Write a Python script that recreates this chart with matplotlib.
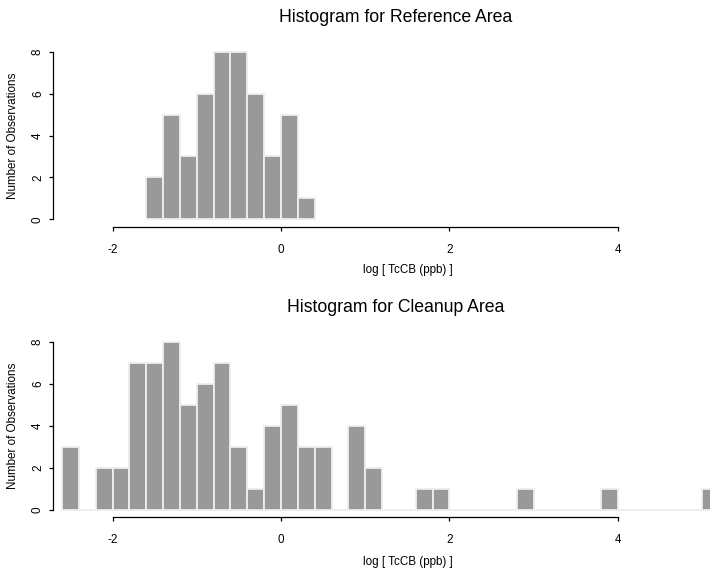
import numpy as np
import matplotlib
matplotlib.use("Agg")
import matplotlib.pyplot as plt

plt.rcParams['font.family'] = ['Liberation Sans', 'DejaVu Sans']

# ---- data ----
bin_width = 0.2
ref_start = -1.6
ref_counts = [2, 5, 3, 6, 8, 8, 6, 3, 5, 1]
cln_start = -2.6
cln_counts = [3, 0, 2, 2, 7, 7, 8, 5, 6, 7, 3, 1, 4, 5, 3, 3, 0, 4, 2, 0, 0,
              1, 1, 0, 0, 0, 0, 1, 0, 0, 0, 0, 1, 0, 0, 0, 0, 0, 1]
titles = ["Histogram for Reference Area", "Histogram for Cleanup Area"]
xlabel = "log [ TcCB (ppb) ]"
ylabel = "Number of Observations"
xticks = [-2, 0, 2, 4]
yticks = [0, 2, 4, 6, 8]

W, H = 710, 573
fig = plt.figure(figsize=(W / 100, H / 100), dpi=100)

# pixel geometry (from reference)
x_left_px, x_right_px = 53, 710
px_per_unit = 84.2
x0_px = 281.0  # pixel of x=0
xlim = ((x_left_px - x0_px) / px_per_unit, (x_right_px - x0_px) / px_per_unit)

panels = [
    dict(start=ref_start, counts=ref_counts, title=titles[0],
         y0=219.3, ppu=20.95, axis_px=227.3, title_px=17, tick_px=247, xlab_px=270),
    dict(start=cln_start, counts=cln_counts, title=titles[1],
         y0=510.0, ppu=21.04, axis_px=517.3, title_px=307, tick_px=537, xlab_px=562),
]

fs = 8.4
for p in panels:
    ymin = (p['y0'] - p['axis_px']) / p['ppu']
    ymax = 8.4
    top_px = p['y0'] - ymax * p['ppu']
    ax = fig.add_axes([x_left_px / W, 1 - p['axis_px'] / H,
                       (x_right_px - x_left_px) / W, (p['axis_px'] - top_px) / H])
    counts = np.array(p['counts'])
    lefts = p['start'] + bin_width * np.arange(len(counts))
    ax.bar(lefts, counts, width=bin_width, align='edge', color='#999999',
           edgecolor='#eeeeee', linewidth=1.3, zorder=2)
    ax.set_xlim(*xlim)
    ax.set_ylim(ymin, ymax)
    for s in ['top', 'right']:
        ax.spines[s].set_visible(False)
    ax.spines['left'].set_bounds(0, 8)
    ax.spines['bottom'].set_bounds(-2, 4)
    for s in ['left', 'bottom']:
        ax.spines[s].set_linewidth(0.9)
    ax.set_xticks(xticks)
    ax.set_xticklabels([str(t) for t in xticks], fontsize=fs)
    ax.set_yticks(yticks)
    ax.set_yticklabels([str(t) for t in yticks], fontsize=fs, rotation=90, va='center')
    ax.tick_params(axis='x', direction='out', length=3, width=0.9, pad=9)
    ax.tick_params(axis='y', direction='out', length=3, width=0.9, pad=3.5)
    fig.text(396 / W, 1 - p['title_px'] / H, p['title'], fontsize=12.7,
             ha='center', va='center')
    fig.text(408 / W, 1 - p['xlab_px'] / H, xlabel, fontsize=fs,
             ha='center', va='center')
    mid_px = (p['y0'] + (p['y0'] - 8 * p['ppu'])) / 2
    fig.text(13 / W, 1 - mid_px / H, ylabel, fontsize=fs, rotation=90,
             ha='center', va='center')

fig.savefig("out.png", dpi=100)
